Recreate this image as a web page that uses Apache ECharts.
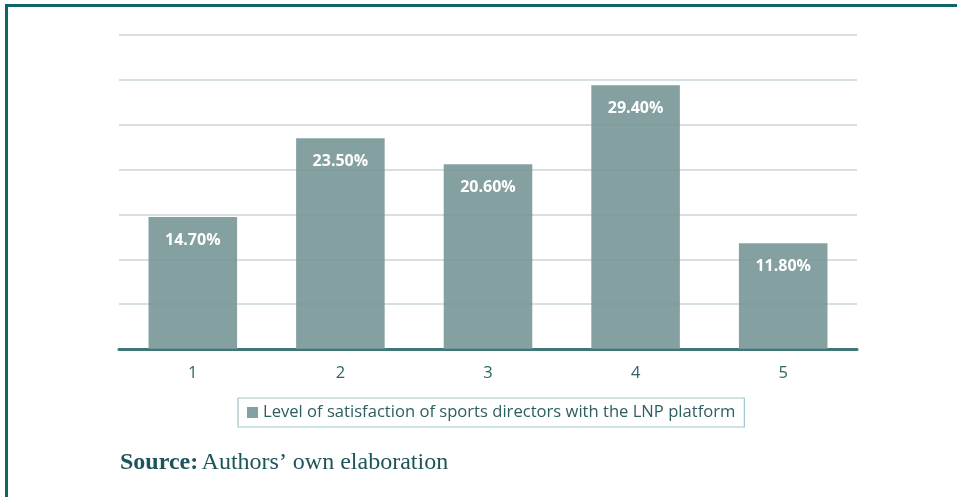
<!DOCTYPE html>
<html><head><meta charset="utf-8">
<script src="https://cdn.jsdelivr.net/npm/echarts@6/dist/echarts.min.js"></script>
<style>html,body{margin:0;padding:0;background:#fff}#c{width:957px;height:497px}</style>
</head><body><div id="c"></div>
<script>
const categories = ['1','2','3','4','5'];
const values = [14.7, 23.5, 20.6, 29.4, 11.8];
const seriesName = 'Level of satisfaction of sports directors with the LNP platform';
const yMin = 0, yMax = 35, yInterval = 5;

const chart = echarts.init(document.getElementById('c'), null, {renderer:'canvas'});
chart.setOption({
  animation: false,
  backgroundColor: '#ffffff',
  grid: {left: 119, right: 100, top: 35, bottom: 148},
  xAxis: {
    type: 'category', data: categories,
    axisLine: {lineStyle: {color: '#3f7676', width: 3}},
    axisTick: {show: false},
    axisLabel: {color: '#2c6468', fontSize: 16.5, fontFamily: 'Open Sans', margin: 16}
  },
  yAxis: {
    type: 'value', min: yMin, max: yMax, interval: yInterval,
    axisLabel: {show: false}, axisLine: {show: false}, axisTick: {show: false},
    splitLine: {lineStyle: {color: '#c8d6d6', width: 1.5}}
  },
  legend: {
    left: 238, top: 398, width: 504,
    data: [seriesName],
    icon: 'rect', itemWidth: 11, itemHeight: 11, itemGap: 5,
    borderColor: '#9fc6c9', borderWidth: 1.2, padding: [6, 9, 6, 9],
    textStyle: {color: '#2c5e62', fontSize: 16.6, fontFamily: 'Open Sans'}
  },
  series: [{
    name: seriesName, type: 'bar', data: values, barWidth: '60%',
    itemStyle: {color: 'rgba(122,152,153,0.92)'},
    z: 1,
    label: {
      show: true, position: 'insideTop', distance: 15,
      formatter: p => p.value.toFixed(2) + '%',
      color: '#ffffff', fontWeight: 'bold', fontSize: 16, fontFamily: 'Open Sans'
    }
  }],
  graphic: [
    {type: 'rect', shape: {x: 5, y: 4, width: 952, height: 3}, style: {fill: '#0e6466'}},
    {type: 'rect', shape: {x: 5, y: 4, width: 3, height: 493}, style: {fill: '#0e6466'}},
    {type: 'text', left: 120, top: 451, style: {
      rich: {
        b: {fontFamily: 'Liberation Serif', fontWeight: 'bold', fontSize: 24, fill: '#1d5459'},
        n: {fontFamily: 'Liberation Serif', fontSize: 24, fill: '#1d5459'}
      },
      text: '{b|Source:} {n|Authors\u2019 own elaboration}'
    }}
  ]
});
</script></body></html>
